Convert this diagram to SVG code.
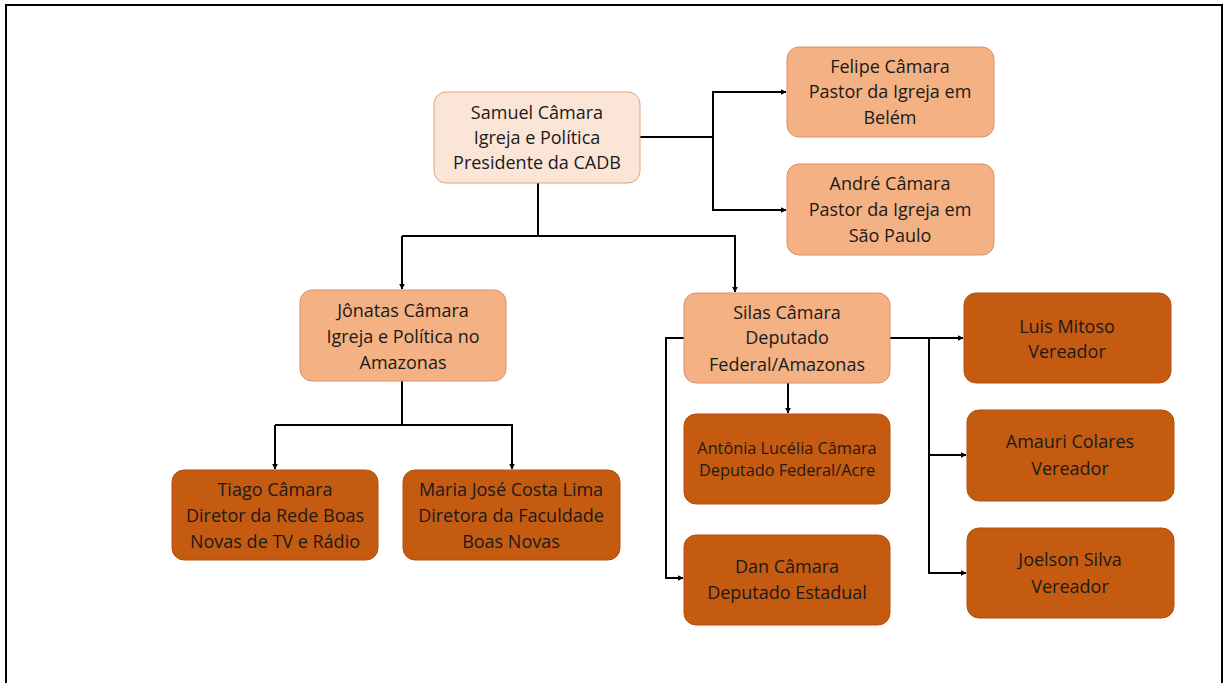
<svg xmlns="http://www.w3.org/2000/svg" width="1227" height="683" viewBox="0 0 1227 683">
<defs>
<marker id="ah" viewBox="0 0 10 10" refX="9" refY="5" markerWidth="6" markerHeight="6" markerUnits="userSpaceOnUse" orient="auto"><path d="M0,0 L10,5 L0,10 z" fill="#000"/></marker>
<style>
.t{font-family:"Open Sans","Noto Sans","Liberation Sans",sans-serif;font-size:18px;fill:#1a1a1a;text-anchor:middle}
.s{font-size:16.3px}
.l0{fill:#fbe5d6;stroke:#d9a47f;stroke-width:1}
.l1{fill:#f4b183;stroke:#d9906a;stroke-width:1}
.l2{fill:#c55a11;stroke:#b4500e;stroke-width:1}
.c{fill:none;stroke:#000;stroke-width:2}
.a{marker-end:url(#ah)}
</style>
</defs>
<rect x="0" y="0" width="1227" height="683" fill="#fff"/>
<path d="M6,690 V5 H1222 V690" fill="none" stroke="#000" stroke-width="2"/>
<g id="connectors">
<path class="c" d="M640,137 H713"/>
<path class="c a" d="M713,137 V92 H786"/>
<path class="c a" d="M713,137 V210 H786"/>
<path class="c" d="M538,183 V236"/>
<path class="c a" d="M402,236 V289"/>
<path class="c a" d="M402,236 H735 V292"/>
<path class="c" d="M402,381 V425"/>
<path class="c a" d="M275,425 V469"/>
<path class="c a" d="M275,425 H512 V469"/>
<path class="c a" d="M684,338 H666 V578 H683"/>
<path class="c a" d="M788,383 V413"/>
<path class="c a" d="M890,338 H963"/>
<path class="c a" d="M929,338 V455 H966"/>
<path class="c a" d="M929,455 V573 H966"/>
</g>
<g id="samuel"><rect class="l0" x="434" y="92" width="206" height="91" rx="12"/><text class="t" x="537" y="119">Samuel Câmara</text><text class="t" x="537" y="144">Igreja e Política</text><text class="t" x="537" y="169">Presidente da CADB</text></g>
<g id="felipe"><rect class="l1" x="787" y="47" width="207" height="90" rx="12"/><text class="t" x="890" y="73">Felipe Câmara</text><text class="t" x="890" y="98">Pastor da Igreja em</text><text class="t" x="890" y="124">Belém</text></g>
<g id="andre"><rect class="l1" x="787" y="164" width="207" height="91" rx="12"/><text class="t" x="890" y="190">André Câmara</text><text class="t" x="890" y="216">Pastor da Igreja em</text><text class="t" x="890" y="242">São Paulo</text></g>
<g id="jonatas"><rect class="l1" x="300" y="290" width="206" height="91" rx="12"/><text class="t" x="403" y="317">Jônatas Câmara</text><text class="t" x="403" y="343">Igreja e Política no</text><text class="t" x="403" y="369">Amazonas</text></g>
<g id="silas"><rect class="l1" x="684" y="293" width="206" height="90" rx="12"/><text class="t" x="787" y="319">Silas Câmara</text><text class="t" x="787" y="344">Deputado</text><text class="t" x="787" y="371">Federal/Amazonas</text></g>
<g id="luis"><rect class="l2" x="964" y="293" width="207" height="90" rx="12"/><text class="t" x="1067" y="333">Luis Mitoso</text><text class="t" x="1067" y="358">Vereador</text></g>
<g id="antonia"><rect class="l2" x="684" y="414" width="206" height="90" rx="12"/><text class="t s" x="787" y="454">Antônia Lucélia Câmara</text><text class="t s" x="787" y="476">Deputado Federal/Acre</text></g>
<g id="amauri"><rect class="l2" x="967" y="410" width="207" height="91" rx="12"/><text class="t" x="1070" y="448">Amauri Colares</text><text class="t" x="1070" y="475">Vereador</text></g>
<g id="joelson"><rect class="l2" x="967" y="528" width="207" height="90" rx="12"/><text class="t" x="1070" y="566">Joelson Silva</text><text class="t" x="1070" y="593">Vereador</text></g>
<g id="dan"><rect class="l2" x="684" y="535" width="206" height="90" rx="12"/><text class="t" x="787" y="573">Dan Câmara</text><text class="t" x="787" y="599">Deputado Estadual</text></g>
<g id="tiago"><rect class="l2" x="172" y="470" width="206" height="90" rx="12"/><text class="t" x="275" y="496">Tiago Câmara</text><text class="t" x="275" y="522">Diretor da Rede Boas</text><text class="t" x="275" y="548">Novas de TV e Rádio</text></g>
<g id="maria"><rect class="l2" x="403" y="470" width="217" height="90" rx="12"/><text class="t" x="511" y="496">Maria José Costa Lima</text><text class="t" x="511" y="522">Diretora da Faculdade</text><text class="t" x="511" y="548">Boas Novas</text></g>
</svg>
